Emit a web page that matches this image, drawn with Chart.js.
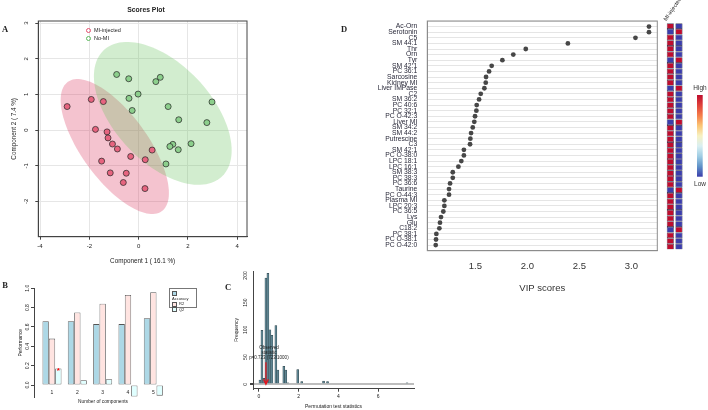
<!DOCTYPE html>
<html lang="en">
<head>
<meta charset="UTF-8">
<title>PLS-DA | MI-injected vs No-MI</title>
<script src="https://cdn.jsdelivr.net/npm/chart.js@4.4.1/dist/chart.umd.min.js"></script>
<style>
  body { margin: 0; background: #fff; font-family: "Liberation Sans", Arial, sans-serif; color: #222; }
  .fig { position: relative; width: 708px; height: 410px; overflow: hidden; }
  .fig canvas { position: absolute; }
  .t { position: absolute; white-space: nowrap; transform: translate(-50%, -50%); line-height: 1; }
  .panel { font-family: "Liberation Serif", "Times New Roman", serif; font-weight: bold; font-size: 8.5px; }
  .legA { position: absolute; font-size: 5.5px; line-height: 7.5px; }
  .legA span { display: inline-block; width: 3px; height: 3px; border: 0.8px solid; border-radius: 50%; margin-right: 3px; vertical-align: middle; }
  .legB { position: absolute; border: 0.8px solid #777; font-size: 4px; line-height: 5px; padding: 2px 2px 1px 2px; box-sizing: border-box; }
  .legB span { display: inline-block; width: 3px; height: 3px; border: 0.5px solid #555; margin-right: 2px; vertical-align: middle; }
</style>
</head>
<body>
<div class="fig">
  <canvas id="chartA" width="252" height="272" style="left:0;top:0"></canvas>
  <canvas id="chartB" width="168" height="130" style="left:0;top:280px"></canvas>
  <canvas id="chartC" width="187" height="145" style="left:228px;top:265px"></canvas>
  <canvas id="chartD" width="322" height="300" style="left:340px;top:0"></canvas>
  <canvas id="chartH" width="53" height="300" style="left:655px;top:0"></canvas>

  <div class="t panel" style="left:5px;top:29px">A</div>
  <div class="t panel" style="left:5px;top:285px">B</div>
  <div class="t panel" style="left:228px;top:287px">C</div>
  <div class="t panel" style="left:344px;top:29px">D</div>

  <div class="t" style="left:146px;top:10px;font-weight:bold;font-size:6.8px">Scores Plot</div>
  <div class="legA" style="left:86px;top:27px">
    <div><span style="border-color:#e0506e"></span>MI-injected</div>
    <div><span style="border-color:#5cb85c"></span>No-MI</div>
  </div>

  <div class="legB" style="left:169px;top:288px;width:28px;height:20px">
    <div><span style="background:#ADD8E6"></span>Accuracy</div>
    <div><span style="background:#FFE4E1"></span>R2</div>
    <div><span style="background:#E0FFFF"></span>Q2</div>
  </div>
  <div class="t" style="left:103px;top:402px;font-size:4.8px">Number of components</div>
</div>

<script>
// ---- A: PLS-DA scores
const miX = [-2.90, -1.92, -1.43, -1.75, -1.28, -1.24, -1.06, -0.86, -0.32, 0.55, 0.27, -1.50, -1.15, -0.50, -0.62, 0.26];
const miY = [0.66, 0.86, 0.80, 0.02, -0.05, -0.22, -0.39, -0.53, -0.74, -0.56, -0.83, -0.87, -1.20, -1.21, -1.47, -1.64];
const noX = [-0.89, -0.40, 0.70, 0.88, -0.39, -0.02, -0.26, 1.20, 2.98, 1.63, 2.77, 2.13, 1.39, 1.27, 1.61, 1.11];
const noY = [1.56, 1.44, 1.36, 1.48, 0.89, 1.01, 0.55, 0.66, 0.79, 0.29, 0.21, -0.38, -0.40, -0.46, -0.55, -0.95];

// ---- B: cross validation
const components = [1, 2, 3, 4, 5];
const accuracy = [0.66, 0.66, 0.63, 0.63, 0.69];
const r2 = [0.48, 0.75, 0.84, 0.93, 0.96];
const q2 = [0.17, 0.05, 0.06, -0.12, -0.11];
const bestComp = 1;

// ---- C: permutation test (bin centres, counts)
const permBins = [0.05, 0.15, 0.25, 0.35, 0.45, 0.55, 0.65, 0.85, 0.95, 1.25, 1.35, 1.45, 1.95, 2.15, 3.25, 3.45, 7.45];
const permCounts = [8, 99, 11, 195, 204, 100, 90, 108, 26, 33, 26, 3, 27, 5, 6, 5, 3];
const observedStat = 0.35;
const observedText = ['Observed', 'statistic', 'p=0.723 (723/1000)'];

// ---- D: VIP scores
const vipNames = ['Ac-Orn', 'Serotonin', 'C5', 'SM 44:1', 'Thr', 'Orn', 'Tyr', 'SM 42:1', 'PC 36:1', 'Sarcosine',
  'Kidney MI', 'Liver IMPase', 'C2', 'SM 36:2', 'PC 40:6', 'PC 32:1', 'PC O-42:3', 'Liver MI', 'SM 34:2', 'SM 44:2',
  'Putrescine', 'C3', 'SM 42:1', 'PC O-38:0', 'LPC 18:1', 'LPC 16:1', 'SM 38:3', 'PC 38:3', 'PC 36:6', 'Taurine',
  'PC O-44:3', 'Plasma MI', 'LPC 20:3', 'PC 36:5', 'Lys', 'Glu', 'C18:2', 'PC 38:1', 'PC O-38:1', 'PC O-42:0'];
const vipScores = [3.17, 3.17, 3.04, 2.39, 1.985, 1.865, 1.76, 1.657, 1.632, 1.603,
  1.60, 1.587, 1.552, 1.536, 1.513, 1.51, 1.497, 1.49, 1.475, 1.459,
  1.452, 1.449, 1.39, 1.39, 1.365, 1.337, 1.283, 1.283, 1.257, 1.247,
  1.247, 1.202, 1.202, 1.192, 1.17, 1.16, 1.154, 1.125, 1.122, 1.119];
const groups = ['MI-injected', 'No-MI'];
const heatMI = [1, -1, 1, 1, 1, 1, -1, 1, 1, 1, 1, -1, 1, 1, 1, 1, 1, -1, 1, 1,
  1, 1, 1, 1, 1, 1, 1, 1, 1, -1, 1, 1, 1, 1, 1, 1, -1, 1, 1, 1];
const heatNoMI = [-1, 1, -1, -1, -1, -1, 1, -1, -1, -1, -1, 1, -1, -1, -1, -1, -1, 1, -1, -1,
  -1, -1, -1, -1, -1, -1, -1, -1, -1, 1, -1, -1, -1, -1, -1, -1, 1, -1, -1, -1];

Chart.defaults.font.family = '"Liberation Sans", Arial, sans-serif';
Chart.defaults.color = '#222';
Chart.defaults.animation = false;
Chart.defaults.responsive = false;
Chart.defaults.plugins.legend.display = false;
Chart.defaults.plugins.tooltip.enabled = false;

// frame round the plot area
const boxPlugin = {
  id: 'box',
  afterDraw(chart, args, opts) {
    const a = chart.chartArea, ctx = chart.ctx;
    ctx.save();
    ctx.strokeStyle = opts.color || '#444';
    ctx.lineWidth = 1;
    ctx.strokeRect(a.left, a.top, a.right - a.left, a.bottom - a.top);
    ctx.restore();
  }
};

// 95% confidence ellipse from each group's points
const ellipsePlugin = {
  id: 'ellipses',
  beforeDatasetsDraw(chart) {
    const xs = chart.scales.x, ys = chart.scales.y, ctx = chart.ctx;
    ctx.save();
    chart.data.datasets.forEach(ds => {
      const n = ds.data.length;
      let mx = 0, my = 0;
      ds.data.forEach(p => { mx += p.x; my += p.y; });
      mx /= n; my /= n;
      let sxx = 0, syy = 0, sxy = 0;
      ds.data.forEach(p => { sxx += (p.x - mx) ** 2; syy += (p.y - my) ** 2; sxy += (p.x - mx) * (p.y - my); });
      sxx /= n - 1; syy /= n - 1; sxy /= n - 1;
      const k = Math.sqrt(5.991);
      const a = Math.sqrt(sxx), b = sxy / a, c = Math.sqrt(syy - b * b);
      ctx.beginPath();
      for (let i = 0; i <= 120; i++) {
        const t = i / 120 * 2 * Math.PI;
        const px = xs.getPixelForValue(mx + k * a * Math.cos(t));
        const py = ys.getPixelForValue(my + k * (b * Math.cos(t) + c * Math.sin(t)));
        if (i) ctx.lineTo(px, py); else ctx.moveTo(px, py);
      }
      ctx.closePath();
      ctx.fillStyle = ds.ellipseColor;
      ctx.fill();
    });
    ctx.restore();
  }
};

const axisA = { color: '#e6e6e6', tickColor: '#444', tickLength: 3 };

new Chart(document.getElementById('chartA'), {
  type: 'scatter',
  data: {
    datasets: [
      { data: miX.map((x, i) => ({ x: x, y: miY[i] })), backgroundColor: '#e6647f', borderColor: '#222',
        borderWidth: 0.7, pointRadius: 3, ellipseColor: 'rgba(218,55,95,0.3)' },
      { data: noX.map((x, i) => ({ x: x, y: noY[i] })), backgroundColor: '#8ccf8c', borderColor: '#222',
        borderWidth: 0.7, pointRadius: 3, ellipseColor: 'rgba(105,195,95,0.3)' }
    ]
  },
  options: {
    layout: { padding: { top: 21, right: 5, left: 0, bottom: 0 } },
    plugins: { box: { color: '#444' } },
    scales: {
      x: {
        min: -4.07, max: 4.4,
        afterFit: s => { s.height = 35.3; },
        ticks: { stepSize: 2, includeBounds: false, padding: 3.4, font: { size: 6 } },
        grid: axisA, border: { color: '#444' },
        title: { display: true, text: 'Component 1 ( 16.1 %)', font: { size: 6.3 }, padding: { top: 0, bottom: 7.2 } }
      },
      y: {
        min: -2.99, max: 3.06,
        afterFit: s => { s.width = 38.3; },
        ticks: { stepSize: 1, includeBounds: false, minRotation: 90, maxRotation: 90, crossAlign: 'center',
          padding: 5.9, font: { size: 6 }, autoSkip: false },
        grid: axisA, border: { color: '#444' },
        title: { display: true, text: 'Component 2 ( 7.4 %)', font: { size: 6.3 }, padding: { top: 10.2, bottom: 0 } }
      }
    }
  },
  plugins: [ellipsePlugin, boxPlugin]
});

// ---- B
const bestPlugin = {
  id: 'best',
  afterDatasetsDraw(chart) {
    const el = chart.getDatasetMeta(2).data[bestComp - 1];
    const ctx = chart.ctx;
    ctx.save();
    ctx.fillStyle = '#ff0000';
    ctx.font = 'bold 8px "Liberation Sans"';
    ctx.textAlign = 'center';
    ctx.textBaseline = 'middle';
    ctx.fillText('*', el.x, el.y + 2);
    ctx.restore();
  }
};

const barStyle = { borderColor: '#555', borderWidth: 0.8, borderSkipped: false, categoryPercentage: 0.75, barPercentage: 1 };

new Chart(document.getElementById('chartB'), {
  type: 'bar',
  data: {
    datasets: [
      Object.assign({ label: 'Accuracy', data: components.map((c, i) => ({ x: c, y: accuracy[i] })), backgroundColor: '#ADD8E6' }, barStyle),
      Object.assign({ label: 'R2', data: components.map((c, i) => ({ x: c, y: r2[i] })), backgroundColor: '#FFE4E1' }, barStyle),
      Object.assign({ label: 'Q2', data: components.map((c, i) => ({ x: c, y: q2[i] })), backgroundColor: '#E0FFFF' }, barStyle)
    ]
  },
  options: {
    layout: { padding: { top: 8.3, right: 2, left: 0, bottom: 12.9 } },
    scales: {
      x: {
        type: 'linear', position: { y: 0 }, min: 0.29, max: 5.5, offset: false,
        ticks: { stepSize: 1, includeBounds: false, padding: 4.4, font: { size: 5 } },
        grid: { display: false, drawTicks: false, offset: false }, border: { display: false }
      },
      y: {
        min: -0.125, max: 1.0,
        afterFit: s => { s.width = 34; },
        ticks: { stepSize: 0.2, includeBounds: false, minRotation: 90, maxRotation: 90, crossAlign: 'center',
          padding: 0, font: { size: 5 }, callback: v => v.toFixed(1) },
        grid: { drawOnChartArea: false, tickColor: '#444', tickLength: 3 }, border: { color: '#444' },
        title: { display: true, text: 'Performance', font: { size: 4.8 }, padding: { top: 17.8, bottom: 0 } }
      }
    }
  },
  plugins: [bestPlugin]
});

// ---- C
const observedPlugin = {
  id: 'observed',
  afterDatasetsDraw(chart) {
    const xs = chart.scales.x, ys = chart.scales.y, ctx = chart.ctx;
    const h = Math.max(...permCounts);
    const px = xs.getPixelForValue(observedStat);
    const y0 = ys.getPixelForValue(h / 5), y1 = ys.getPixelForValue(0);
    ctx.save();
    ctx.strokeStyle = '#e8141c';
    ctx.lineWidth = 1.2;
    ctx.beginPath();
    ctx.moveTo(px, y0); ctx.lineTo(px, y1);
    ctx.moveTo(px - 2.5, y1 - 5); ctx.lineTo(px, y1); ctx.lineTo(px + 2.5, y1 - 5);
    ctx.stroke();
    ctx.fillStyle = '#222';
    ctx.font = '4.5px "Liberation Sans"';
    ctx.textAlign = 'center';
    ctx.textBaseline = 'middle';
    const ty = ys.getPixelForValue(h / 3.5);
    observedText.forEach((s, i) => ctx.fillText(s, px + 3, ty + (i - 1) * 5.2));
    ctx.restore();
  }
};

new Chart(document.getElementById('chartC'), {
  type: 'bar',
  data: {
    datasets: [{
      data: permBins.map((b, i) => ({ x: b, y: permCounts[i] })),
      backgroundColor: '#5e8592', borderColor: '#2c3e44', borderWidth: 0.5,
      barPercentage: 1, categoryPercentage: 1
    }]
  },
  options: {
    layout: { padding: { top: 6.1, right: 1, left: 0, bottom: 0 } },
    scales: {
      x: {
        type: 'linear', min: -0.3, max: 7.8, offset: false,
        afterFit: s => { s.height = 21.3; },
        ticks: { stepSize: 2, includeBounds: false, padding: 2, font: { size: 5 } },
        grid: { drawOnChartArea: false, offset: false, tickColor: '#444', tickLength: 3 }, border: { color: '#444' },
        title: { display: true, text: 'Permutation test statistics', font: { size: 5 }, padding: { top: 0, bottom: 0 } }
      },
      y: {
        min: -8, max: 208,
        afterFit: s => { s.width = 25; },
        ticks: { stepSize: 50, includeBounds: false, minRotation: 90, maxRotation: 90, crossAlign: 'center',
          padding: 0, font: { size: 5 } },
        grid: {
          color: c => (c.tick && c.tick.value === 0) ? '#bdbdbd' : 'rgba(0,0,0,0)',
          lineWidth: c => (c.tick && c.tick.value === 0) ? 2 : 0,
          tickColor: '#444', tickLength: 3
        },
        border: { color: '#444' },
        title: { display: true, text: 'Frequency', font: { size: 5 }, padding: { top: 5.7, bottom: 0 } }
      }
    }
  },
  plugins: [observedPlugin]
});

// ---- D
new Chart(document.getElementById('chartD'), {
  type: 'scatter',
  data: {
    datasets: [{
      data: vipScores.map((v, i) => ({ x: v, y: i + 1 })),
      backgroundColor: '#474747', borderWidth: 0, pointRadius: 2.4
    }]
  },
  options: {
    layout: { padding: { top: 21, right: 4.7, left: 0, bottom: 4.3 } },
    plugins: { box: { color: '#8c8c8c' } },
    scales: {
      x: {
        min: 1.038, max: 3.25,
        afterFit: s => { s.height = 45; },
        ticks: { stepSize: 0.5, includeBounds: false, padding: 10, font: { size: 9.5 }, color: '#333',
          callback: v => v.toFixed(1) },
        grid: { display: false, drawTicks: false }, border: { color: '#8c8c8c' },
        title: { display: true, text: 'VIP scores', font: { size: 9.5 }, color: '#333', padding: { top: 0, bottom: 1.5 } }
      },
      y: {
        reverse: true, min: 0, max: vipNames.length + 1,
        afterFit: s => { s.width = 87.3; },
        ticks: { stepSize: 1, autoSkip: false, padding: 10, font: { size: 6.8 }, color: '#2a2a3a',
          callback: v => vipNames[v - 1] || '' },
        grid: { color: '#dadada', lineWidth: 0.7, drawTicks: false }, border: { color: '#8c8c8c' }
      }
    }
  },
  plugins: [boxPlugin]
});

// ---- heat map column beside D
const keyStops = ['#be0d2e', '#e0413a', '#f57d4a', '#fbc574', '#f7f1c2', '#d9eff2', '#9fcde4', '#5f92c8', '#3b3dab'];
function heatColor(v) {
  const t = (1 - v) / 2 * (keyStops.length - 1);
  return keyStops[Math.round(t)];
}

const colorKeyPlugin = {
  id: 'colorKey',
  afterDraw(chart) {
    const ctx = chart.ctx;
    const x = 42, top = 95, bottom = 176.7;
    const g = ctx.createLinearGradient(0, top, 0, bottom);
    keyStops.forEach((c, i) => g.addColorStop(i / (keyStops.length - 1), c));
    ctx.save();
    ctx.fillStyle = g;
    ctx.fillRect(x, top, 5.7, bottom - top);
    ctx.fillStyle = '#333';
    ctx.font = '6.5px "Liberation Sans"';
    ctx.textAlign = 'center';
    ctx.textBaseline = 'middle';
    ctx.fillText('High', x + 3, 88);
    ctx.fillText('Low', x + 3, 184);
    ctx.restore();
  }
};

new Chart(document.getElementById('chartH'), {
  type: 'bar',
  data: {
    labels: groups,
    datasets: vipNames.map((n, i) => ({
      label: n,
      data: [1, 1],
      backgroundColor: [heatColor(heatMI[i]), heatColor(heatNoMI[i])],
      borderColor: '#1c1c38', borderWidth: 0.6, borderSkipped: false,
      barPercentage: 0.82, categoryPercentage: 1
    }))
  },
  options: {
    layout: { padding: { top: 0, left: 11, right: 24.7, bottom: 50.5 } },
    scales: {
      x: {
        position: 'top', stacked: true,
        afterFit: s => { s.height = 23.3; },
        ticks: { minRotation: 55, maxRotation: 55, padding: 1, font: { size: 5.5 }, color: '#222' },
        grid: { display: false, drawTicks: false }, border: { display: false }
      },
      y: { stacked: true, display: false, min: 0, max: vipNames.length, reverse: true }
    }
  },
  plugins: [colorKeyPlugin]
});
</script>
</body>
</html>
